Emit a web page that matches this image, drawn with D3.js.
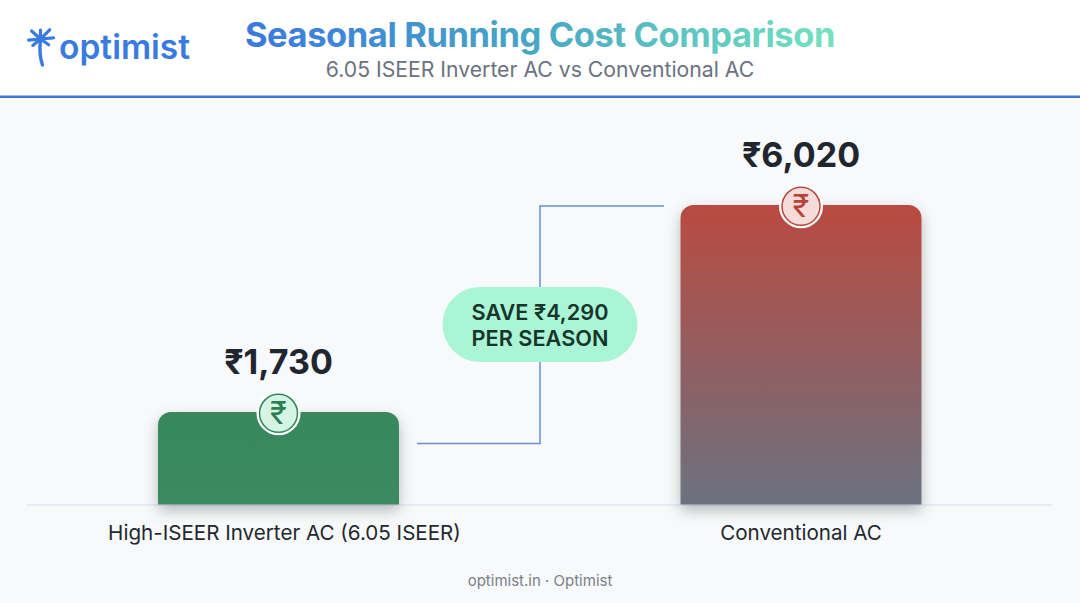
<!DOCTYPE html>
<html><head><meta charset="utf-8">
<script src="https://cdnjs.cloudflare.com/ajax/libs/d3/7.8.5/d3.min.js"></script>
<style>html,body{margin:0;padding:0;background:#fff;overflow:hidden}svg{display:block}text{font-family:Inter,"Noto Sans",sans-serif}</style>
</head><body><svg id="c" width="1080" height="603"></svg>
<script>
const categories = ["High-ISEER Inverter AC (6.05 ISEER)", "Conventional AC"];
const values = [1730, 6020];
const valueLabels = ["₹1,730", "₹6,020"];
const savingLines = ["SAVE ₹4,290", "PER SEASON"];
const titleText = "Seasonal Running Cost Comparison";
const subtitleText = "6.05 ISEER Inverter AC vs Conventional AC";
const footerText = "optimist.in · Optimist";
const logoText = "optimist";

const svg = d3.select("#c");
const defs = svg.append("defs");
const grad = (id, stops, x2, y2, units) => {
  const g = defs.append("linearGradient").attr("id", id).attr("x1", units ? 245 : 0).attr("y1", 0).attr("x2", x2).attr("y2", y2);
  if (units) g.attr("gradientUnits", "userSpaceOnUse");
  stops.forEach(s => g.append("stop").attr("offset", s[0]).attr("stop-color", s[1]));
};
grad("gTitle", [[0, "#3a78e0"], [0.5, "#48a8c4"], [1, "#74e2bf"]], 835, 0, true);
grad("gRed", [[0, "#ba4a40"], [1, "#6b7280"]], 0, 1);
grad("gGreen", [[0, "#38885c"], [1, "#3b8a60"]], 0, 1);
const f = defs.append("filter").attr("id", "sh").attr("x", "-20%").attr("y", "-20%").attr("width", "140%").attr("height", "140%");
f.append("feDropShadow").attr("dx", 0).attr("dy", 6).attr("stdDeviation", 7).attr("flood-color", "#000").attr("flood-opacity", 0.26);

// panels
svg.append("rect").attr("width", 1080).attr("height", 603).attr("fill", "#f7f9fa");
svg.append("rect").attr("width", 1080).attr("height", 96).attr("fill", "#fff");
svg.append("rect").attr("y", 95.5).attr("width", 1080).attr("height", 2.5).attr("fill", "#3a78d6");

// header
svg.append("text").attr("x", 540).attr("y", 47).attr("text-anchor", "middle").attr("font-size", 34.5).attr("letter-spacing", -0.42).attr("font-weight", 700).attr("fill", "url(#gTitle)").text(titleText);
svg.append("text").attr("x", 540).attr("y", 77).attr("text-anchor", "middle").attr("font-size", 21.2).attr("fill", "#6b7280").text(subtitleText);

// logo
const logo = svg.append("g").attr("fill", "none").attr("stroke", "#3a7be0").attr("stroke-linecap", "round");
logo.append("path").attr("stroke-width", 3.4).attr("d", "M40.5 40 C39.5 48 40 58 42.5 65");
const fronds = [[-90, 9], [-45, 13], [-5, 13], [35, 10], [140, 10], [175, 12], [222, 12]];
fronds.forEach(([deg, r]) => {
  const a = deg * Math.PI / 180, ex = 40.5 + r * Math.cos(a), ey = 39 + r * Math.sin(a);
  logo.append("path").attr("stroke-width", 3.2).attr("d", `M40.5 39 L${ex} ${ey}`);
});
svg.append("text").attr("x", 59).attr("y", 59).attr("font-size", 33.5).attr("font-weight", 600).attr("fill", "#3a7be0").text(logoText);

// scales
const baseY = 504.5;
const xc = d3.scalePoint().domain(categories).range([278.5, 801]);
const y = d3.scaleLinear().domain([1730, 6020]).range([412, 205]);
const barW = 241;

// axis line
svg.append("line").attr("x1", 27).attr("x2", 1052).attr("y1", baseY + 0.5).attr("y2", baseY + 0.5).attr("stroke", "#e3e6f0").attr("stroke-width", 1.3);

// connector
const line = d3.path();
line.moveTo(417, y(values[0]) + 31.5); line.lineTo(540, y(values[0]) + 31.5); line.lineTo(540, y(values[1]) + 1); line.lineTo(664, y(values[1]) + 1);
svg.append("path").attr("d", line.toString()).attr("fill", "none").attr("stroke", "#6690cf").attr("stroke-width", 1.5);

// bars
const fills = ["url(#gGreen)", "url(#gRed)"];
const barPath = d => {
  const l = xc(d.c) - barW / 2, r = l + barW, t = y(d.v), rad = 13;
  const p = d3.path();
  p.moveTo(l, baseY); p.lineTo(l, t + rad); p.arcTo(l, t, l + rad, t, rad);
  p.lineTo(r - rad, t); p.arcTo(r, t, r, t + rad, rad); p.lineTo(r, baseY); p.closePath();
  return p.toString();
};
const data = categories.map((c, i) => ({c, v: values[i], l: valueLabels[i], i}));
svg.selectAll(".bar").data(data).join("path").attr("class", "bar").attr("d", barPath).attr("fill", d => fills[d.i]).attr("filter", "url(#sh)");

// badges
const badgeFill = ["#d4f5e3", "#f6dcd8"], badgeInk = ["#2f7d55", "#b8433a"], badgeStroke = ["#2f8558", "#b9483f"];
const b = svg.selectAll(".badge").data(data).join("g").attr("class", "badge").attr("transform", d => `translate(${xc(d.c)},${y(d.v) + 1.3})`);
b.append("circle").attr("r", 22).attr("fill", "#fff");
b.append("circle").attr("r", 19).attr("fill", d => badgeFill[d.i]).attr("stroke", d => badgeStroke[d.i]).attr("stroke-width", 1.5);
b.append("text").attr("text-anchor", "middle").attr("y", 11).attr("font-size", 31).attr("font-weight", 400).attr("fill", d => badgeInk[d.i]).text("₹");

// value labels
svg.selectAll(".val").data(data).join("text").attr("class", "val").attr("x", d => xc(d.c)).attr("y", d => y(d.v) - 38.5)
  .attr("text-anchor", "middle").attr("font-size", 34).attr("font-weight", 700).attr("fill", "#1f2630").text(d => d.l);

// category labels
svg.selectAll(".cat").data(data).join("text").attr("class", "cat").attr("x", (d, i) => [284.5, 801][i]).attr("y", 540)
  .attr("text-anchor", "middle").attr("font-size", 20.6).attr("fill", "#23282f").text(d => d.c);

// pill
svg.append("rect").attr("x", 442.5).attr("y", 287).attr("width", 195).attr("height", 75).attr("rx", 37.5).attr("fill", "#aaf5d6");
svg.selectAll(".sv").data(savingLines).join("text").attr("class", "sv").attr("x", 540).attr("y", (d, i) => 320 + i * 26)
  .attr("text-anchor", "middle").attr("font-size", 21.7).attr("font-weight", 600).attr("fill", "#17352b").text(d => d);

// footer
svg.append("text").attr("x", 540).attr("y", 586).attr("text-anchor", "middle").attr("font-size", 15).attr("fill", "#7a808a").text(footerText);
</script></body></html>
